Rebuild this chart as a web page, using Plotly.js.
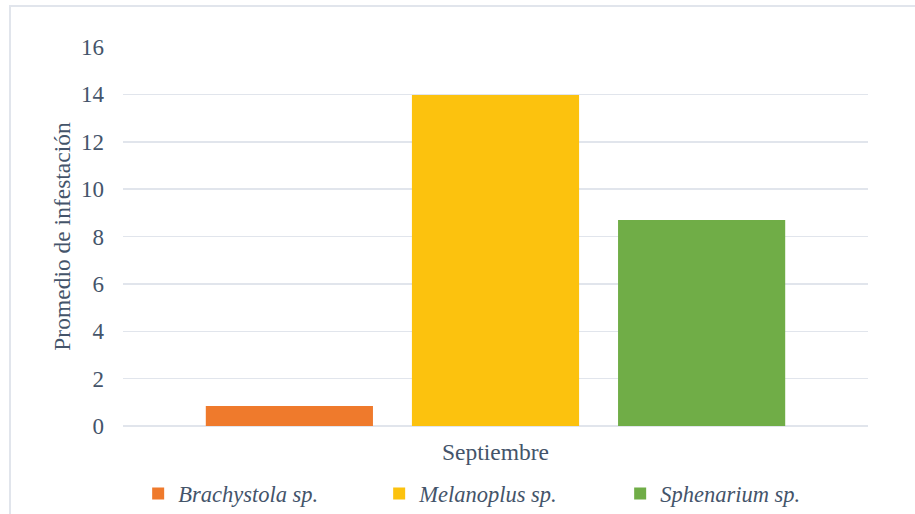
<!DOCTYPE html>
<html>
<head>
<meta charset="utf-8">
<script src="https://cdn.plot.ly/plotly-3.0.1.min.js"></script>
<style>
  html, body { margin: 0; padding: 0; background: #ffffff; }
  #chart { width: 915px; height: 514px; }
  #frame { position: absolute; left: 9px; top: 5px; width: 1000px; height: 1000px;
           border-left: 2px solid #E1E5EC; border-top: 2px solid #E1E5EC; pointer-events: none; }
</style>
</head>
<body>
<div id="chart"></div>
<div id="frame"></div>
<script>
const categories = ['Septiembre'];
const seriesNames = ['<i>Brachystola sp.</i>', '<i>Melanoplus sp.</i>', '<i>Sphenarium sp.</i>'];
const brachystola = [0.84];
const melanoplus = [13.97];
const sphenarium = [8.70];
const seriesValues = [brachystola, melanoplus, sphenarium];
const seriesColors = ['#EF7A2C', '#FCC20E', '#70AD47'];
const yTicks = [0, 2, 4, 6, 8, 10, 12, 14, 16];

const textColor = '#44546A';
const font = "'Liberation Serif', 'Times New Roman', serif";

const traces = seriesValues.map((vals, i) => ({
  type: 'bar',
  name: seriesNames[i],
  x: categories,
  y: vals,
  marker: { color: seriesColors[i], line: { width: 0 } },
  hoverinfo: 'skip'
}));

const layout = {
  width: 915, height: 514,
  margin: { l: 123, r: 47, t: 47, b: 88, autoexpand: false },
  paper_bgcolor: '#ffffff', plot_bgcolor: '#ffffff',
  font: { family: font, color: textColor, size: 23 },
  barmode: 'group',
  bargap: 0.17,
  bargroupgap: 0.189,
  showlegend: true,
  legend: {
    orientation: 'h',
    xref: 'container', yref: 'container',
    x: 0.151, xanchor: 'left',
    y: 0.039, yanchor: 'middle',
    font: { family: font, size: 22.5, color: textColor },
    entrywidth: 196,
    itemwidth: 30,
    bgcolor: 'rgba(0,0,0,0)'
  },
  xaxis: {
    type: 'category',
    showgrid: false, zeroline: false, showline: false,
    ticks: '',
    tickfont: { family: font, size: 23.5, color: textColor },
    ticklabelstandoff: 9
  },
  yaxis: {
    range: [0, 16],
    tickvals: yTicks,
    ticktext: yTicks.map(String),
    showgrid: true, gridcolor: '#E1E5EC', gridwidth: 1.5,
    zeroline: true, zerolinecolor: '#E1E5EC', zerolinewidth: 1.5,
    showline: false, ticks: '',
    ticklabelstandoff: 18,
    tickfont: { family: font, size: 23, color: textColor },
    title: { text: 'Promedio de infestación', font: { family: font, size: 23.5, color: textColor }, standoff: 3 }
  }
};

Plotly.newPlot('chart', traces, layout, { displayModeBar: false, staticPlot: true });
</script>
</body>
</html>
